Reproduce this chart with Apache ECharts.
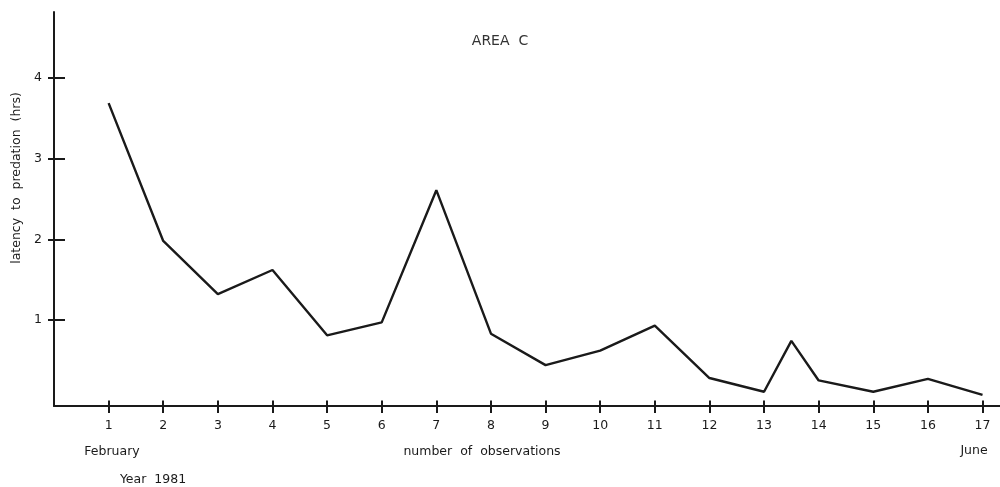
<!DOCTYPE html>
<html><head><meta charset="utf-8">
<script src="https://cdn.jsdelivr.net/npm/echarts@6/dist/echarts.min.js"></script>
<style>html,body{margin:0;padding:0;background:#fff}#c{width:1000px;height:487px}</style>
</head><body><div id="c"></div>
<script>
const observations = [1,2,3,4,5,6,7,8,9,10,11,12,13,13.5,14,15,16,17];
const latency = [3.69,1.98,1.32,1.62,0.81,0.97,2.61,0.83,0.44,0.62,0.93,0.28,0.11,0.74,0.25,0.11,0.27,0.07];
const xTicks = [1,2,3,4,5,6,7,8,9,10,11,12,13,14,15,16,17];
const yTicks = [1,2,3,4];

const FONT = '"DejaVu Sans", "Open Sans", sans-serif';
const INK = '#1a1a1a';
const chart = echarts.init(document.getElementById('c'), null, {renderer:'canvas'});
const axisCommonX = {
  type:'value', min:0, max:17.32, splitLine:{show:false},
  axisLine:{show:true, onZero:false, lineStyle:{color:INK, width:2}}
};
const axisCommonY = {
  type:'value', min:-0.067, max:4.82, splitLine:{show:false},
  axisLine:{show:true, lineStyle:{color:INK, width:2}}
};
chart.setOption({
  animation:false,
  title:{text:'AREA  C', left:'center', top:29,
    textStyle:{fontFamily:FONT, fontSize:14, fontWeight:'normal', color:'#333'}},
  grid:{left:54, right:0, top:12, bottom:81, containLabel:false},
  xAxis:[
    Object.assign({}, axisCommonX, {
      axisTick:{show:true, inside:false, length:7, customValues:xTicks, lineStyle:{color:INK, width:2}},
      axisLabel:{show:true, customValues:xTicks, margin:13, fontFamily:FONT, fontSize:12.5, color:INK}
    }),
    Object.assign({}, axisCommonX, {
      axisLine:{show:false},
      axisTick:{show:true, inside:true, length:7, customValues:xTicks, lineStyle:{color:INK, width:2}},
      axisLabel:{show:false}
    })
  ],
  yAxis:[
    Object.assign({}, axisCommonY, {
      axisTick:{show:true, inside:true, length:11, customValues:yTicks, lineStyle:{color:INK, width:2}},
      axisLabel:{show:true, customValues:yTicks, margin:12, fontFamily:FONT, fontSize:12.5, color:INK}
    }),
    Object.assign({}, axisCommonY, {
      position:'left',
      axisLine:{show:false},
      axisTick:{show:true, inside:false, length:6, customValues:yTicks, lineStyle:{color:INK, width:2}},
      axisLabel:{show:false}
    })
  ],
  graphic:[
    {type:'text', x:17, y:178, rotation:Math.PI/2, style:{text:'latency  to  predation  (hrs)', fontFamily:FONT, fontSize:12.5, fill:INK, align:'center', verticalAlign:'middle'}},
    {type:'text', x:482, y:452, style:{text:'number  of  observations', fontFamily:FONT, fontSize:12.5, fill:INK, align:'center', verticalAlign:'middle'}},
    {type:'text', x:112, y:452, style:{text:'February', fontFamily:FONT, fontSize:12.5, fill:INK, align:'center', verticalAlign:'middle'}},
    {type:'text', x:974, y:451, style:{text:'June', fontFamily:FONT, fontSize:12.5, fill:INK, align:'center', verticalAlign:'middle'}},
    {type:'text', x:153, y:480, style:{text:'Year  1981', fontFamily:FONT, fontSize:12.5, fill:INK, align:'center', verticalAlign:'middle'}}
  ],
  series:[{
    type:'line', xAxisIndex:0, yAxisIndex:0,
    data: observations.map((x,i)=>[x, latency[i]]),
    symbol:'none', lineStyle:{color:INK, width:2.4}
  }]
});
</script></body></html>
